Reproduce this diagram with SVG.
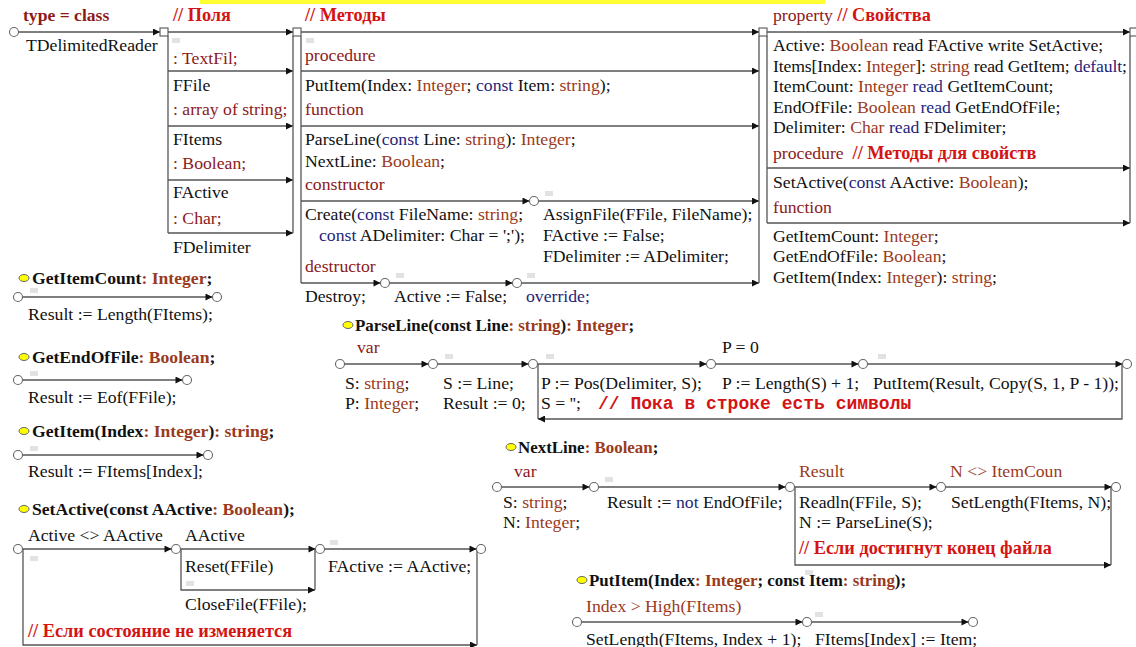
<svg xmlns="http://www.w3.org/2000/svg" width="1136" height="647" viewBox="0 0 1136 647" font-family="'Liberation Serif', 'Times New Roman', serif">
<defs>
<marker id="ah" viewBox="0 0 10 10" refX="10" refY="5" markerWidth="9" markerHeight="7" markerUnits="userSpaceOnUse" orient="auto"><path d="M0,0 L10,5 L0,10 z" fill="#111"/></marker>
<style>
text{font-family:'Liberation Serif','Times New Roman',serif;font-size:17.7px;fill:#111;white-space:pre}
.b{font-weight:bold;font-size:17.6px}
.b2{font-weight:bold;font-size:16.9px}
.kw{fill:#8b1a1a}
.ty{fill:#9a3a1c}
.nv{fill:#1f1f7a}
.cm{fill:#d41414;font-weight:bold;font-size:18.3px}
.mono{font-family:'Liberation Mono','Courier New',monospace;font-size:18px;font-weight:bold;fill:#d41414}
.ln{stroke:#555;stroke-width:1.3;fill:none}
.ar{marker-end:url(#ah)}
.jn{fill:#fff;stroke:#666;stroke-width:1.1}
.sq{fill:#fff;stroke:#555;stroke-width:1.1}
.yel{fill:#ffff00;stroke:#666;stroke-width:1}
.mk{fill:#e2e2e2}
</style>
</defs>
<rect x="200" y="0" width="625" height="4" fill="#ffff33"/>

<g id="connectors">
<path class="ln ar" d="M18.5,32 H160"/>
<path class="ln ar" d="M168,32 H293"/>
<path class="ln ar" d="M301,32 H759"/>
<path class="ln ar" d="M767,32 H1130"/>
<path class="ln" d="M168,36 V233"/>
<path class="ln ar" d="M168,71 H293"/>
<path class="ln ar" d="M168,126 H293"/>
<path class="ln ar" d="M168,180 H293"/>
<path class="ln ar" d="M168,233 H293"/>
<path class="ln" d="M293,36 V233"/>
<path class="ln" d="M301,36 V283"/>
<path class="ln ar" d="M301,71 H759"/>
<path class="ln ar" d="M301,126 H759"/>
<path class="ln ar" d="M301,201 H529.5"/>
<path class="ln ar" d="M538.5,201 H759"/>
<path class="ln ar" d="M301,283 H380.5"/>
<path class="ln ar" d="M389.5,283 H512.5"/>
<path class="ln ar" d="M521.5,283 H759"/>
<path class="ln" d="M759,36 V283"/>
<path class="ln" d="M767,36 V223"/>
<path class="ln ar" d="M767,168 H1130"/>
<path class="ln ar" d="M767,223 H1130"/>
<path class="ln" d="M1130,36 V223"/>
<path class="ln ar" d="M22.5,297 H212.5"/>
<path class="ln ar" d="M22.5,380 H182.5"/>
<path class="ln ar" d="M22.5,455 H203.5"/>
<path class="ln ar" d="M22.5,549 H171.5"/>
<path class="ln ar" d="M180.5,549 H315.5"/>
<path class="ln ar" d="M324.5,549 H476.5"/>
<path class="ln ar" d="M181,549 V590 H315"/>
<path class="ln" d="M315,549 V590"/>
<path class="ln ar" d="M23,549 V645 H477"/>
<path class="ln" d="M477,549 V645"/>
<path class="ln ar" d="M344.5,364 H428.5"/>
<path class="ln ar" d="M437.5,364 H528.5"/>
<path class="ln ar" d="M537.5,364 H706.5"/>
<path class="ln ar" d="M715.5,364 H858.5"/>
<path class="ln ar" d="M867.5,364 H1122.5"/>
<path class="ln" d="M538,364 V419"/>
<path class="ln ar" d="M1122,364 V419 H538"/>
<path class="ln ar" d="M501.5,487 H589.5"/>
<path class="ln ar" d="M598.5,487 H785.5"/>
<path class="ln ar" d="M794.5,487 H936.5"/>
<path class="ln ar" d="M945.5,487 H1111.5"/>
<path class="ln ar" d="M795,487 V565 H1111"/>
<path class="ln" d="M1111,487 V565"/>
<path class="ln ar" d="M581.5,622 H802.5"/>
<path class="ln ar" d="M811.5,622 H968.5"/>
</g>

<g id="junctions">
<circle class="jn" cx="14" cy="32" r="4.5"/>
<rect class="sq" x="160" y="28" width="8" height="8"/>
<rect class="sq" x="293" y="28" width="8" height="8"/>
<rect class="sq" x="759" y="28" width="8" height="8"/>
<rect class="sq" x="1130" y="28" width="8" height="8"/>
<circle class="jn" cx="534" cy="201" r="4.5"/>
<circle class="jn" cx="385" cy="283" r="4.5"/>
<circle class="jn" cx="517" cy="283" r="4.5"/>
<circle class="jn" cx="18" cy="297" r="4.5"/>
<circle class="jn" cx="217" cy="297" r="4.5"/>
<circle class="jn" cx="18" cy="380" r="4.5"/>
<circle class="jn" cx="187" cy="380" r="4.5"/>
<circle class="jn" cx="18" cy="455" r="4.5"/>
<circle class="jn" cx="208" cy="455" r="4.5"/>
<circle class="jn" cx="18" cy="549" r="4.5"/>
<circle class="jn" cx="176" cy="549" r="4.5"/>
<circle class="jn" cx="320" cy="549" r="4.5"/>
<circle class="jn" cx="481" cy="549" r="4.5"/>
<circle class="jn" cx="340" cy="364" r="4.5"/>
<circle class="jn" cx="433" cy="364" r="4.5"/>
<circle class="jn" cx="533" cy="364" r="4.5"/>
<circle class="jn" cx="711" cy="364" r="4.5"/>
<circle class="jn" cx="863" cy="364" r="4.5"/>
<circle class="jn" cx="1127" cy="364" r="4.5"/>
<circle class="jn" cx="497" cy="487" r="4.5"/>
<circle class="jn" cx="594" cy="487" r="4.5"/>
<circle class="jn" cx="790" cy="487" r="4.5"/>
<circle class="jn" cx="941" cy="487" r="4.5"/>
<circle class="jn" cx="1116" cy="487" r="4.5"/>
<circle class="jn" cx="577" cy="622" r="4.5"/>
<circle class="jn" cx="807" cy="622" r="4.5"/>
<circle class="jn" cx="973" cy="622" r="4.5"/>
</g>

<g id="markers">
<rect class="mk" x="172" y="38" width="8" height="5"/>
<rect class="mk" x="306" y="38" width="8" height="5"/>
<rect class="mk" x="545" y="191" width="8" height="5"/>
<rect class="mk" x="396" y="273" width="8" height="5"/>
<rect class="mk" x="527" y="273" width="8" height="5"/>
<rect class="mk" x="30" y="288" width="8" height="5"/>
<rect class="mk" x="30" y="371" width="8" height="5"/>
<rect class="mk" x="30" y="446" width="8" height="5"/>
<rect class="mk" x="30" y="556" width="8" height="5"/>
<rect class="mk" x="186" y="581" width="8" height="5"/>
<rect class="mk" x="330" y="540" width="8" height="5"/>
<rect class="mk" x="445" y="354" width="8" height="5"/>
<rect class="mk" x="546" y="354" width="8" height="5"/>
<rect class="mk" x="878" y="354" width="8" height="5"/>
<rect class="mk" x="605" y="477" width="8" height="5"/>
<rect class="mk" x="805" y="570" width="8" height="5"/>
<rect class="mk" x="815" y="612" width="8" height="5"/>
</g>

<g id="class-header">
<text x="23" y="21" class="kw b">type = class</text>
<text x="26" y="51">TDelimitedReader</text>
</g>

<g id="fields">
<text x="173" y="21" class="cm">// Поля</text>
<text x="173" y="64" class="kw">: TextFil;</text>
<text x="173" y="91">FFile</text>
<text x="173" y="115" class="kw">: array of string;</text>
<text x="173" y="145">FItems</text>
<text x="173" y="169" class="kw">: Boolean;</text>
<text x="173" y="198">FActive</text>
<text x="173" y="224" class="kw">: Char;</text>
<text x="173" y="253">FDelimiter</text>
</g>

<g id="methods">
<text x="305" y="21" class="cm">// Методы</text>
<text x="305" y="61" class="kw">procedure</text>
<text x="305" y="91">PutItem(Index: <tspan class="ty">Integer</tspan>; <tspan class="nv">const</tspan> Item: <tspan class="ty">string</tspan>);</text>
<text x="305" y="115" class="kw">function</text>
<text x="305" y="145">ParseLine(<tspan class="nv">const</tspan> Line: <tspan class="ty">string</tspan>): <tspan class="ty">Integer</tspan>;</text>
<text x="305" y="167">NextLine: <tspan class="ty">Boolean</tspan>;</text>
<text x="305" y="190" class="kw">constructor</text>
<text x="305" y="220">Create(<tspan class="nv">const</tspan> FileName: <tspan class="ty">string</tspan>;</text>
<text x="319" y="241"><tspan class="nv">const</tspan> ADelimiter: Char = ';');</text>
<text x="543" y="220">AssignFile(FFile, FileName);</text>
<text x="543" y="241">FActive := False;</text>
<text x="543" y="262">FDelimiter := ADelimiter;</text>
<text x="305" y="272" class="kw">destructor</text>
<text x="305" y="302">Destroy;</text>
<text x="394" y="302">Active := False;</text>
<text x="526" y="302" class="nv">override;</text>
</g>

<g id="properties">
<text x="773" y="21"><tspan class="kw">property </tspan><tspan class="cm">// Свойства</tspan></text>
<text x="773" y="51">Active: <tspan class="ty">Boolean</tspan> read FActive write SetActive;</text>
<text x="773" y="72" textLength="354" lengthAdjust="spacing">Items[Index: <tspan class="ty">Integer</tspan>]: <tspan class="ty">string</tspan> read GetItem; <tspan class="nv">default</tspan>;</text>
<text x="773" y="92">ItemCount: <tspan class="ty">Integer</tspan> <tspan class="nv">read</tspan> GetItemCount;</text>
<text x="773" y="113">EndOfFile: <tspan class="ty">Boolean</tspan> <tspan class="nv">read</tspan> GetEndOfFile;</text>
<text x="773" y="133">Delimiter: <tspan class="ty">Char</tspan> <tspan class="nv">read</tspan> FDelimiter;</text>
<text x="773" y="159"><tspan class="kw">procedure  </tspan><tspan class="cm">// Методы для свойств</tspan></text>
<text x="773" y="188">SetActive(<tspan class="nv">const</tspan> AActive: <tspan class="ty">Boolean</tspan>);</text>
<text x="773" y="213" class="kw">function</text>
<text x="773" y="242">GetItemCount: <tspan class="ty">Integer</tspan>;</text>
<text x="773" y="262">GetEndOfFile: <tspan class="ty">Boolean</tspan>;</text>
<text x="773" y="283">GetItem(Index: <tspan class="ty">Integer</tspan>): <tspan class="ty">string</tspan>;</text>
</g>

<g id="fn-getitemcount">
<ellipse class="yel" cx="24" cy="278" rx="5" ry="3.5"/>
<text x="32" y="284" class="b">GetItemCount<tspan class="ty">: Integer</tspan>;</text>
<text x="28" y="320">Result := Length(FItems);</text>
</g>

<g id="fn-getendoffile">
<ellipse class="yel" cx="24" cy="357" rx="5" ry="3.5"/>
<text x="32" y="363" class="b">GetEndOfFile<tspan class="ty">: Boolean</tspan>;</text>
<text x="28" y="403">Result := Eof(FFile);</text>
</g>

<g id="fn-getitem">
<ellipse class="yel" cx="24" cy="431" rx="5" ry="3.5"/>
<text x="32" y="437" class="b">GetItem(Index<tspan class="ty">: Integer</tspan>)<tspan class="ty">: string</tspan>;</text>
<text x="28" y="477">Result := FItems[Index];</text>
</g>

<g id="fn-setactive">
<ellipse class="yel" cx="24" cy="509" rx="5" ry="3.5"/>
<text x="32" y="515" class="b">SetActive(const AActive<tspan class="ty">: Boolean</tspan>);</text>
<text x="28" y="541">Active &lt;&gt; AActive</text>
<text x="185" y="541">AActive</text>
<text x="185" y="572">Reset(FFile)</text>
<text x="328" y="572">FActive := AActive;</text>
<text x="185" y="610">CloseFile(FFile);</text>
<text x="28" y="637" class="cm">// Если состояние не изменяется</text>
</g>

<g id="fn-parseline">
<ellipse class="yel" cx="348" cy="325" rx="5" ry="3.5"/>
<text x="355" y="331" class="b2">ParseLine(const Line<tspan class="ty">: string</tspan>)<tspan class="ty">: Integer</tspan>;</text>
<text x="357" y="353" class="kw">var</text>
<text x="722" y="353">P = 0</text>
<text x="345" y="389">S: <tspan class="ty">string</tspan>;</text>
<text x="345" y="409">P: <tspan class="ty">Integer</tspan>;</text>
<text x="443" y="389">S := Line;</text>
<text x="443" y="409">Result := 0;</text>
<text x="541" y="389">P := Pos(Delimiter, S);</text>
<text x="541" y="409">S = '';</text>
<text x="598" y="409" class="mono">// Пока в строке есть символы</text>
<text x="722" y="389">P := Length(S) + 1;</text>
<text x="873" y="389">PutItem(Result, Copy(S, 1, P - 1));</text>
</g>

<g id="fn-nextline">
<ellipse class="yel" cx="511" cy="447" rx="5" ry="3.5"/>
<text x="518" y="453" class="b2">NextLine<tspan class="ty">: Boolean</tspan>;</text>
<text x="514" y="477" class="kw">var</text>
<text x="799" y="477" class="ty">Result</text>
<text x="950" y="477" class="ty">N &lt;&gt; ItemCoun</text>
<text x="503" y="508">S: <tspan class="ty">string</tspan>;</text>
<text x="503" y="528">N: <tspan class="ty">Integer</tspan>;</text>
<text x="607" y="508">Result := <tspan class="nv">not</tspan> EndOfFile;</text>
<text x="799" y="508">Readln(FFile, S);</text>
<text x="799" y="528">N := ParseLine(S);</text>
<text x="799" y="554" class="cm">// Если достигнут конец файла</text>
<text x="951" y="508">SetLength(FItems, N);</text>
</g>

<g id="fn-putitem">
<ellipse class="yel" cx="582" cy="580" rx="5" ry="3.5"/>
<text x="589" y="586" class="b2">PutItem(Index<tspan class="ty">: Integer</tspan>; const Item<tspan class="ty">: string</tspan>);</text>
<text x="586" y="612" class="ty">Index &gt; High(FItems)</text>
<text x="586" y="645">SetLength(FItems, Index + 1);</text>
<text x="815" y="645">FItems[Index] := Item;</text>
</g>
</svg>
